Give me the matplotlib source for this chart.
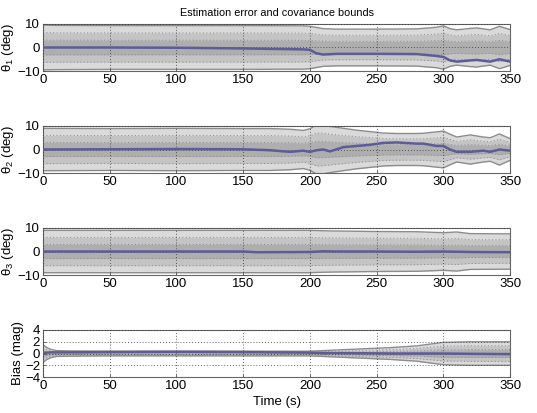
import numpy as np
import matplotlib
matplotlib.use('Agg')
import matplotlib.pyplot as plt

plt.rcParams['font.family'] = ['Liberation Sans', 'DejaVu Sans']
plt.rcParams['font.size'] = 9
plt.rcParams['mathtext.fontset'] = 'custom'
plt.rcParams['mathtext.rm'] = 'Liberation Sans'
plt.rcParams['mathtext.it'] = 'Liberation Sans'

# theta 1: time knots, 3-sigma bound, estimation error
t1 = [0, 10, 50, 100, 150, 195, 200, 205, 210, 220, 250, 280, 295, 300, 305, 310, 320, 325, 335, 342, 350]
b1 = [9.5, 9.4, 9.3, 9.3, 9.3, 9.2, 9.0, 8.5, 8.0, 7.8, 7.8, 7.9, 8.6, 9.2, 8.0, 7.5, 8.1, 8.3, 7.5, 9.0, 7.6]
e1 = [0.0, 0.0, 0.0, -0.1, -0.4, -0.8, -1.0, -2.5, -3.0, -2.7, -2.7, -2.8, -3.6, -4.0, -5.5, -6.0, -5.5, -5.3, -6.0, -5.0, -6.0]

# theta 2
t2 = [0, 50, 100, 150, 170, 185, 195, 200, 205, 210, 215, 225, 235, 245, 255, 265, 280, 285, 295, 300, 305, 310, 320, 330, 335, 342, 350]
b2 = [9.0, 8.9, 9.0, 8.9, 8.9, 8.6, 8.1, 8.8, 10.5, 10.3, 9.8, 9.0, 8.2, 7.6, 7.0, 6.8, 6.8, 6.9, 7.5, 7.8, 6.5, 5.3, 6.2, 5.3, 5.0, 6.6, 4.6]
e2 = [0.0, 0.1, 0.2, 0.1, -0.3, -1.0, -0.5, -1.0, -0.3, 0.0, -0.8, 1.0, 1.5, 2.0, 2.8, 3.0, 2.5, 2.5, 1.5, 1.5, 0.0, -1.0, -1.0, -0.5, -1.0, 0.0, -0.5]

# theta 3
t3 = [0, 50, 100, 150, 160, 200, 210, 220, 250, 280, 300, 310, 320, 350]
b3 = [9.0, 9.0, 9.0, 9.0, 9.0, 9.0, 8.8, 8.7, 8.5, 8.4, 8.0, 8.3, 7.6, 7.5]
e3 = [0.0, 0.0, 0.0, 0.0, -0.3, -0.2, 0.1, 0.0, 0.0, -0.1, 0.0, -0.1, -0.2, -0.3]

# bias
t4 = [0, 3, 6, 10, 20, 50, 100, 150, 200, 210, 240, 260, 280, 290, 300, 320, 350]
b4 = [1.5, 1.0, 0.7, 0.5, 0.45, 0.4, 0.4, 0.4, 0.4, 0.5, 0.8, 1.0, 1.3, 1.6, 1.9, 2.0, 2.0]
e4 = [0.1, 0.15, 0.2, 0.2, 0.2, 0.25, 0.3, 0.25, 0.15, 0.1, 0.05, 0.0, 0.0, 0.0, 0.0, -0.05, -0.1]

labels = ['\u03b8$_{1}$ (deg)', '\u03b8$_{2}$ (deg)', '\u03b8$_{3}$ (deg)', 'Bias (mag)']
ylims = [(-10, 10), (-10, 10), (-10, 10), (-4, 4)]
yticks = [[-10, 0, 10], [-10, 0, 10], [-10, 0, 10], [-4, -2, 0, 2, 4]]
series = [(t1, b1, e1), (t2, b2, e2), (t3, b3, e3), (t4, b4, e4)]
bottoms = [0.828, 0.581, 0.334, 0.087]

fig = plt.figure(figsize=(5.37, 4.13), dpi=100)

for i in range(4):
    ax = fig.add_axes([0.080, bottoms[i], 0.870, 0.114])
    t, b, e = series[i]
    t = np.array(t, dtype=float)
    s = np.array(b) / 3.0
    ax.fill_between(t, -3 * s, 3 * s, color='#dadada', lw=0, zorder=1)
    ax.fill_between(t, -2 * s, 2 * s, color='#c4c4c4', lw=0, zorder=1)
    ax.fill_between(t, -s, s, color='#aeaeae', lw=0, zorder=1)
    for k in [1, 2]:
        ax.plot(t, k * s, color='#8a8a8a', ls=(0, (1, 2.5)), lw=0.7, zorder=2)
        ax.plot(t, -k * s, color='#8a8a8a', ls=(0, (1, 2.5)), lw=0.7, zorder=2)
    ax.plot(t, 3 * s, color='#8c8c8c', lw=1.0, zorder=2)
    ax.plot(t, -3 * s, color='#8c8c8c', lw=1.0, zorder=2)
    ax.plot(t, e, color='#5c5c98', lw=1.8, zorder=3)

    ax.set_xlim(0, 350)
    ax.set_ylim(*ylims[i])
    ax.set_xticks(range(0, 351, 50))
    ax.set_yticks(yticks[i])
    ax.set_ylabel(labels[i], labelpad=1, fontsize=9.5)
    ax.grid(True, color='#333333', ls=(0, (1, 2.5)), lw=0.6)
    ax.set_axisbelow(False)
    ax.tick_params(direction='in', length=2.5, width=0.6, color='#555555', pad=2, labelsize=9.5)
    for sp in ax.spines.values():
        sp.set_color('#666666')
        sp.set_linewidth(0.8)
    if i == 0:
        ax.set_title('Estimation error and covariance bounds', fontsize=7.8, pad=6)
    if i == 3:
        ax.set_xlabel('Time (s)', labelpad=3, fontsize=9.5)

fig.savefig('out.png', dpi=100)
